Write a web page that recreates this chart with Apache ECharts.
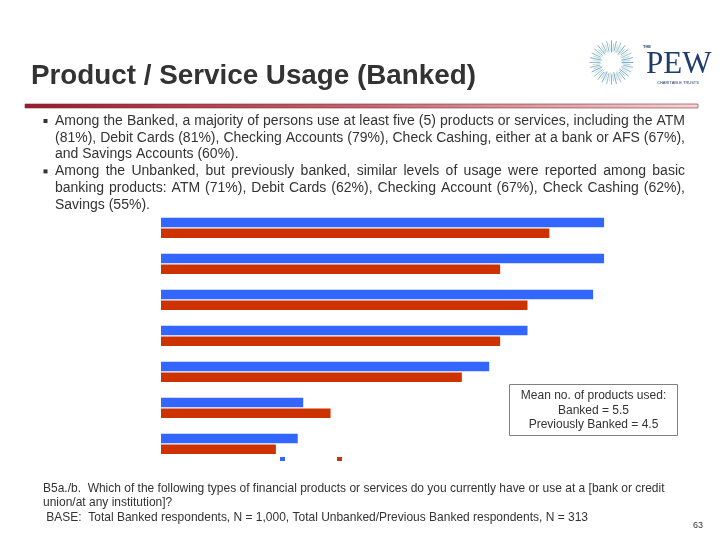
<!DOCTYPE html>
<html><head><meta charset="utf-8">
<script src="https://cdn.jsdelivr.net/npm/echarts@6/dist/echarts.min.js"></script>
<style>html,body{margin:0;padding:0;background:#fff}#c{width:720px;height:540px}</style>
</head><body><div id="c"></div>
<script>
// ---- data ----
const categories = ['ATM', 'Debit Cards', 'Checking Accounts', 'Check Cashing', 'Savings Accounts', 'Money Orders', 'Credit Cards'];
const banked = [81, 81, 79, 67, 60, 26, 25];
const previouslyBanked = [71, 62, 67, 62, 55, 31, 21];
const seriesNames = ['Banked', 'Previously Banked'];

// ---- texts ----
const titleText = 'Product / Service Usage (Banked)';
const bulletParagraphs = [
  ['Among the Banked, a majority of persons use at least five (5) products or services, including the ATM',
   '(81%), Debit Cards (81%), Checking Accounts (79%), Check Cashing, either at a bank or AFS (67%),',
   'and Savings Accounts (60%).'],
  ['Among the Unbanked, but previously banked, similar levels of usage were reported among basic',
   'banking products:  ATM (71%), Debit Cards (62%), Checking Account (67%), Check Cashing (62%),',
   'Savings (55%).']
];
const noteLines = [
  'B5a./b.  Which of the following types of financial products or services do you currently have or use at a [bank or credit',
  'union/at any institution]?',
  ' BASE:  Total Banked respondents, N = 1,000, Total Unbanked/Previous Banked respondents, N = 313'
];
const meanLines = ['Mean no. of products used:', 'Banked = 5.5', 'Previously Banked = 4.5'];
const pageNumber = '63';

// ---- helpers ----
const SANS = "'Liberation Sans', Arial, sans-serif";
const cvs = document.createElement('canvas');
const ctx = cvs.getContext('2d');
function measure(t, font) { ctx.font = font; return ctx.measureText(t).width; }
function txt(text, x, y, font, fill, align) {
  return { type: 'text', silent: true, style: { text, x, y, font, fill,
    align: align || 'left', verticalAlign: 'middle', textAlign: align || 'left', textVerticalAlign: 'middle' } };
}
function justified(text, x0, x1, y, font, fill) {
  const words = text.split(/\s+/).filter(Boolean);
  const widths = words.map(w => measure(w, font));
  const total = widths.reduce((a, b) => a + b, 0);
  const gap = (x1 - x0 - total) / (words.length - 1);
  const out = []; let x = x0;
  words.forEach((w, i) => { out.push(txt(w, x, y, font, fill)); x += widths[i] + gap; });
  return out;
}

const graphics = [];
// title
graphics.push(txt(titleText, 31, 76, "bold 27.8px " + SANS, '#333333'));
// red rule
graphics.push({ type: 'rect', silent: true, shape: { x: 25, y: 104, width: 673, height: 4 },
  style: { fill: new echarts.graphic.LinearGradient(0, 0, 1, 0, [
    { offset: 0, color: '#9a1b2b' }, { offset: 0.5, color: '#c4646e' }, { offset: 1, color: '#f6d3d5' }]),
    stroke: '#7a3035', lineWidth: 0.6 } });
// bullets
const bodyFont = "14px " + SANS;
let ly = 121;
bulletParagraphs.forEach(par => {
  graphics.push({ type: 'rect', silent: true, shape: { x: 43.5, y: ly - 2, width: 4, height: 4 }, style: { fill: '#333' } });
  par.forEach((line, i) => {
    if (i < par.length - 1) graphics.push(...justified(line, 55, 685, ly, bodyFont, '#333333'));
    else graphics.push(txt(line, 55, ly, bodyFont, '#333333'));
    ly += 16.8;
  });
});
// notes
const noteFs = 12 * 622 / measure(noteLines[0], "12px " + SANS);
const noteFont = noteFs.toFixed(2) + "px " + SANS;
noteLines.forEach((l, i) => graphics.push(txt(l, 43, 488.5 + i * 14.5, noteFont, '#333333')));
graphics.push(txt(pageNumber, 698, 526, "9px " + SANS, '#333', 'center'));
// mean box
graphics.push({ type: 'rect', silent: true, shape: { x: 509.5, y: 384.5, width: 168, height: 51 },
  style: { fill: '#fff', stroke: '#808080', lineWidth: 1 } });
meanLines.forEach((l, i) => graphics.push(txt(l, 593.5, 396 + i * 14.3, "12px " + SANS, '#333333', 'center')));
// logo: sunburst
const cx = 611.5, cy = 62.5, N = 56;
const rayColors = ['#6f9fd2', '#a3d2da', '#7aaad3', '#c9e1a6', '#86b6d8', '#b8dcdf'];
for (let i = 0; i < N; i++) {
  const a = i * 2 * Math.PI / N;
  const r0 = 10 + (i % 3), r1 = (i % 2 ? 19 : 22);
  graphics.push({ type: 'line', silent: true,
    shape: { x1: cx + r0 * Math.cos(a), y1: cy + r0 * Math.sin(a), x2: cx + r1 * Math.cos(a), y2: cy + r1 * Math.sin(a) },
    style: { stroke: rayColors[i % rayColors.length], lineWidth: 0.9 } });
}
graphics.push(txt('THE', 643, 47, "bold 4px " + SANS, '#1f3c6e'));
graphics.push(txt('PEW', 646, 64.5, "31px 'Liberation Serif', 'Times New Roman', serif", '#1f3c6e'));
graphics.push(txt('CHARITABLE TRUSTS', 678, 83, "4px " + SANS, '#1f3c6e', 'center'));

const chart = echarts.init(document.getElementById('c'), null, { renderer: 'canvas' });
chart.setOption({
  animation: false,
  backgroundColor: '#ffffff',
  grid: { left: 161, top: 209.85, width: 547, height: 252 },
  legend: { left: 280, top: 457, padding: 0, itemWidth: 5, itemHeight: 4, itemGap: 52, icon: 'rect',
    selectedMode: false, data: seriesNames, formatter: () => '', textStyle: { fontSize: 1 } },
  xAxis: { type: 'value', min: 0, max: 100, show: false },
  yAxis: { type: 'category', data: categories, inverse: true, show: false },
  series: [
    { name: seriesNames[0], type: 'bar', data: banked, barWidth: 9.5, barGap: '14%', itemStyle: { color: '#3366ff' } },
    { name: seriesNames[1], type: 'bar', data: previouslyBanked, barWidth: 9.5, barGap: '14%', itemStyle: { color: '#cc3300' } }
  ],
  graphic: graphics
});
</script></body></html>
